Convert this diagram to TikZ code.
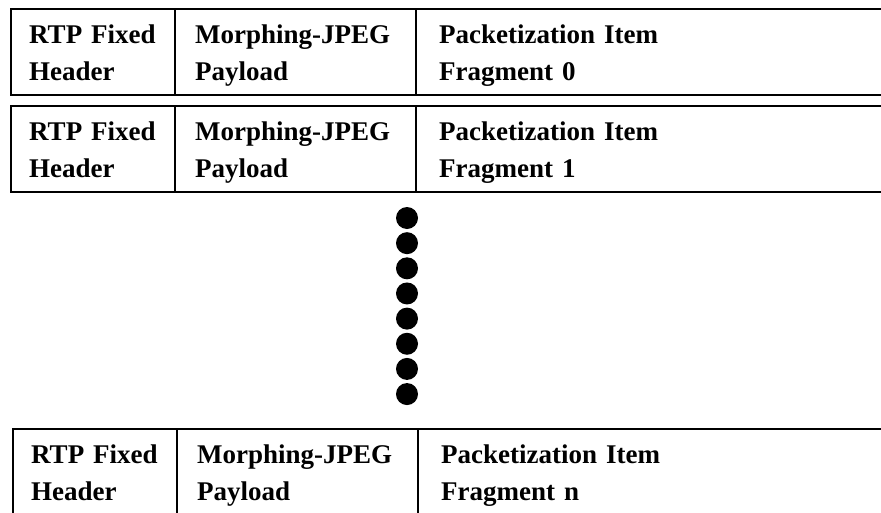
\documentclass[tikz,border=0pt]{standalone}
\usepackage{fontspec}
\setmainfont{Liberation Serif}
\begin{document}
\begin{tikzpicture}[x=1pt,y=-1pt,
  cell/.style={draw, line width=2.4pt, anchor=north west, minimum height=86pt, inner sep=0pt},
  lbl/.style={anchor=base west, inner sep=0pt, align=left, text width=240pt,
              font=\fontsize{27}{37}\selectfont\bfseries},
  dot/.style={circle, fill=black, minimum size=22pt, inner sep=0pt}]
\useasboundingbox (0,0) rectangle (881,512);
\clip (0,0) rectangle (881,512);

% three packets: RTP header | payload header | fragment
\foreach \r/\t/\dx/\frag in {1/8/0/0, 2/105/0/1, 3/428/2/n} {
  \node[cell, minimum width=164pt, name=h\r] at ({10+\dx},\t) {};
  \node[cell, minimum width=241pt, name=p\r] at ({174+\dx},\t) {};
  \node[cell, minimum width=500pt, name=f\r] at ({415+\dx},\t) {};
  \node[lbl, name=th\r] at ({29+\dx},{\t+35.5}) {RTP Fixed\\Header};
  \node[lbl, name=tp\r] at ({195+\dx},{\t+35.5}) {Morphing-JPEG\\Payload};
  \node[lbl, name=tf\r] at ({439+\dx},{\t+35.5}) {Packetization Item\\Fragment \frag};
}

% vertical ellipsis between the packets
\foreach \i in {0,...,7}
  \node[dot, name=d\i] at (407,{218+25.15*\i}) {};
\end{tikzpicture}
\end{document}
